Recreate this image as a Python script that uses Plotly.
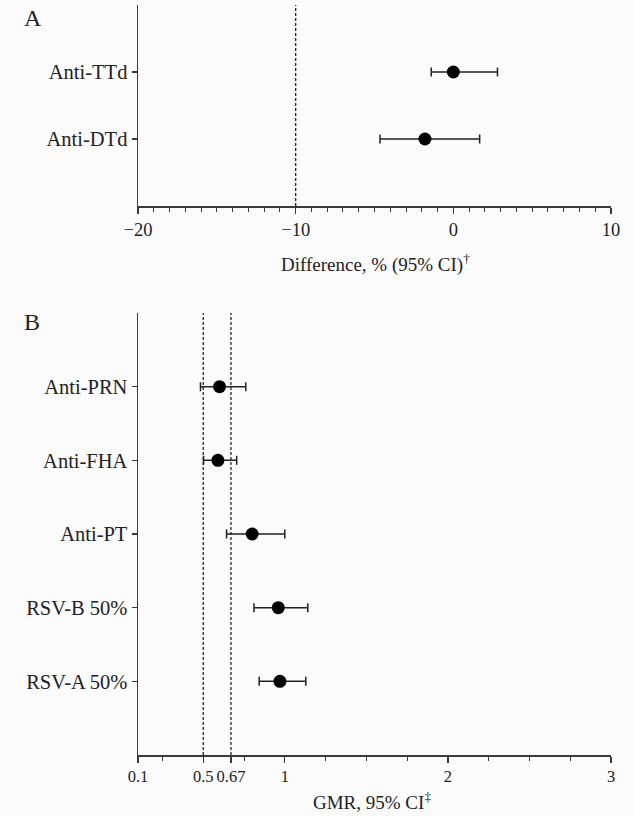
import plotly.graph_objects as go

# Panel A data
a_labels = ["Anti-TTd", "Anti-DTd"]
a_pos = [2, 1]
a_est = [0.0, -1.8]
a_low = [-1.4, -4.65]
a_high = [2.8, 1.67]
a_ticks = [-20, -10, 0, 10]
a_ticktext = ["\u221220", "\u221210", "0", "10"]
a_margin = [-10]

# Panel B data
b_labels = ["Anti-PRN", "Anti-FHA", "Anti-PT", "RSV-B 50%", "RSV-A 50%"]
b_pos = [5, 4, 3, 2, 1]
b_est = [0.60, 0.59, 0.80, 0.96, 0.97]
b_low = [0.483, 0.502, 0.643, 0.811, 0.843]
b_high = [0.761, 0.705, 1.0, 1.141, 1.129]
b_ticks = [0.1, 0.5, 0.67, 1, 2, 3]
b_ticktext = ["0.1", "0.5", "0.67", "1", "2", "3"]
b_minor = [0.25, 0.75, 1.25, 1.5, 1.75, 2.25, 2.5, 2.75]
b_margins = [0.5, 0.67]

FONT = "Liberation Serif"
AX = "#3a3a3a"
TXT = "#222222"
W, H = 633, 816

def fx(px):
    return px / W

def fy(py):
    return 1 - py / H

fig = go.Figure()

fig.add_trace(go.Scatter(
    x=a_est, y=a_pos, mode="markers",
    marker=dict(color="black", size=13),
    error_x=dict(type="data", symmetric=False,
                 array=[h - e for h, e in zip(a_high, a_est)],
                 arrayminus=[e - l for e, l in zip(a_est, a_low)],
                 color="#222", thickness=1.5, width=4.5),
    xaxis="x", yaxis="y", showlegend=False, hoverinfo="skip"))

fig.add_trace(go.Scatter(
    x=b_est, y=b_pos, mode="markers",
    marker=dict(color="black", size=13),
    error_x=dict(type="data", symmetric=False,
                 array=[h - e for h, e in zip(b_high, b_est)],
                 arrayminus=[e - l for e, l in zip(b_est, b_low)],
                 color="#222", thickness=1.5, width=4.5),
    xaxis="x2", yaxis="y2", showlegend=False, hoverinfo="skip"))

for v in a_margin:
    fig.add_shape(type="line", xref="x", yref="y domain", x0=v, x1=v, y0=0, y1=1,
                  line=dict(color="#222", width=1.3, dash="3px,2px"), layer="below")
for v in b_margins:
    fig.add_shape(type="line", xref="x2", yref="y2 domain", x0=v, x1=v, y0=0, y1=1,
                  line=dict(color="#222", width=1.3, dash="3px,2px"), layer="below")

xdom = [fx(138), fx(611)]
tickfont_a = dict(family=FONT, size=18.5, color=TXT)
tickfont_b = dict(family=FONT, size=16.5, color=TXT)
catfont = dict(family=FONT, size=20.5, color=TXT)

fig.update_layout(
    width=W, height=H,
    margin=dict(l=0, r=0, t=0, b=0, autoexpand=False),
    paper_bgcolor="#fbfbfb", plot_bgcolor="#fbfbfb",
    font=dict(family=FONT, color=TXT),
    xaxis=dict(domain=xdom, anchor="y", range=[-20, 10], tickvals=a_ticks, ticktext=a_ticktext,
               automargin=False, tickangle=0,
               showgrid=False, zeroline=False, showline=True, linecolor=AX, linewidth=1.5,
               ticks="outside", ticklen=6, tickwidth=1.2, tickcolor=AX, tickfont=tickfont_a,
               minor=dict(dtick=1, tick0=0, ticks="outside", ticklen=4, tickwidth=1, tickcolor=AX, showgrid=False)),
    yaxis=dict(domain=[fy(206), fy(5)], anchor="x", range=[0, 3], tickvals=a_pos, ticktext=a_labels,
               automargin=False,
               showgrid=False, zeroline=False, showline=True, linecolor=AX, linewidth=1.5,
               ticks="outside", ticklen=5, tickwidth=1.2, tickcolor=AX, tickfont=catfont),
    xaxis2=dict(domain=xdom, anchor="y2", range=[0.1, 3], tickvals=b_ticks, ticktext=b_ticktext,
                automargin=False, tickangle=0,
                showgrid=False, zeroline=False, showline=True, linecolor=AX, linewidth=1.5,
                ticks="outside", ticklen=6, tickwidth=1.2, tickcolor=AX, tickfont=tickfont_b,
                minor=dict(tickvals=b_minor, ticks="outside", ticklen=4, tickwidth=1, tickcolor=AX, showgrid=False)),
    yaxis2=dict(domain=[fy(755), fy(313)], anchor="x2", range=[0, 6], tickvals=b_pos, ticktext=b_labels,
                automargin=False,
                showgrid=False, zeroline=False, showline=True, linecolor=AX, linewidth=1.5,
                ticks="outside", ticklen=5, tickwidth=1.2, tickcolor=AX, tickfont=catfont),
)

fig.add_annotation(text="A", x=fx(22), y=fy(18), xref="paper", yref="paper",
                   xanchor="left", yanchor="middle", showarrow=False,
                   font=dict(family=FONT, size=24, color=TXT))
fig.add_annotation(text="B", x=fx(22), y=fy(322), xref="paper", yref="paper",
                   xanchor="left", yanchor="middle", showarrow=False,
                   font=dict(family=FONT, size=24, color=TXT))
fig.add_annotation(text="Difference, % (95% CI)<sup>\u2020</sup>",
                   x=fx(375), y=fy(263),
                   xref="paper", yref="paper", xanchor="center", yanchor="middle", showarrow=False,
                   font=dict(family=FONT, size=19, color=TXT))
fig.add_annotation(text="GMR, 95% CI<sup>\u2021</sup>",
                   x=fx(372), y=fy(801),
                   xref="paper", yref="paper", xanchor="center", yanchor="middle", showarrow=False,
                   font=dict(family=FONT, size=19, color=TXT))

fig.write_html("out.html", config={"displayModeBar": False, "staticPlot": True},
               post_script="document.body.style.margin='0';document.body.style.overflow='hidden';")
